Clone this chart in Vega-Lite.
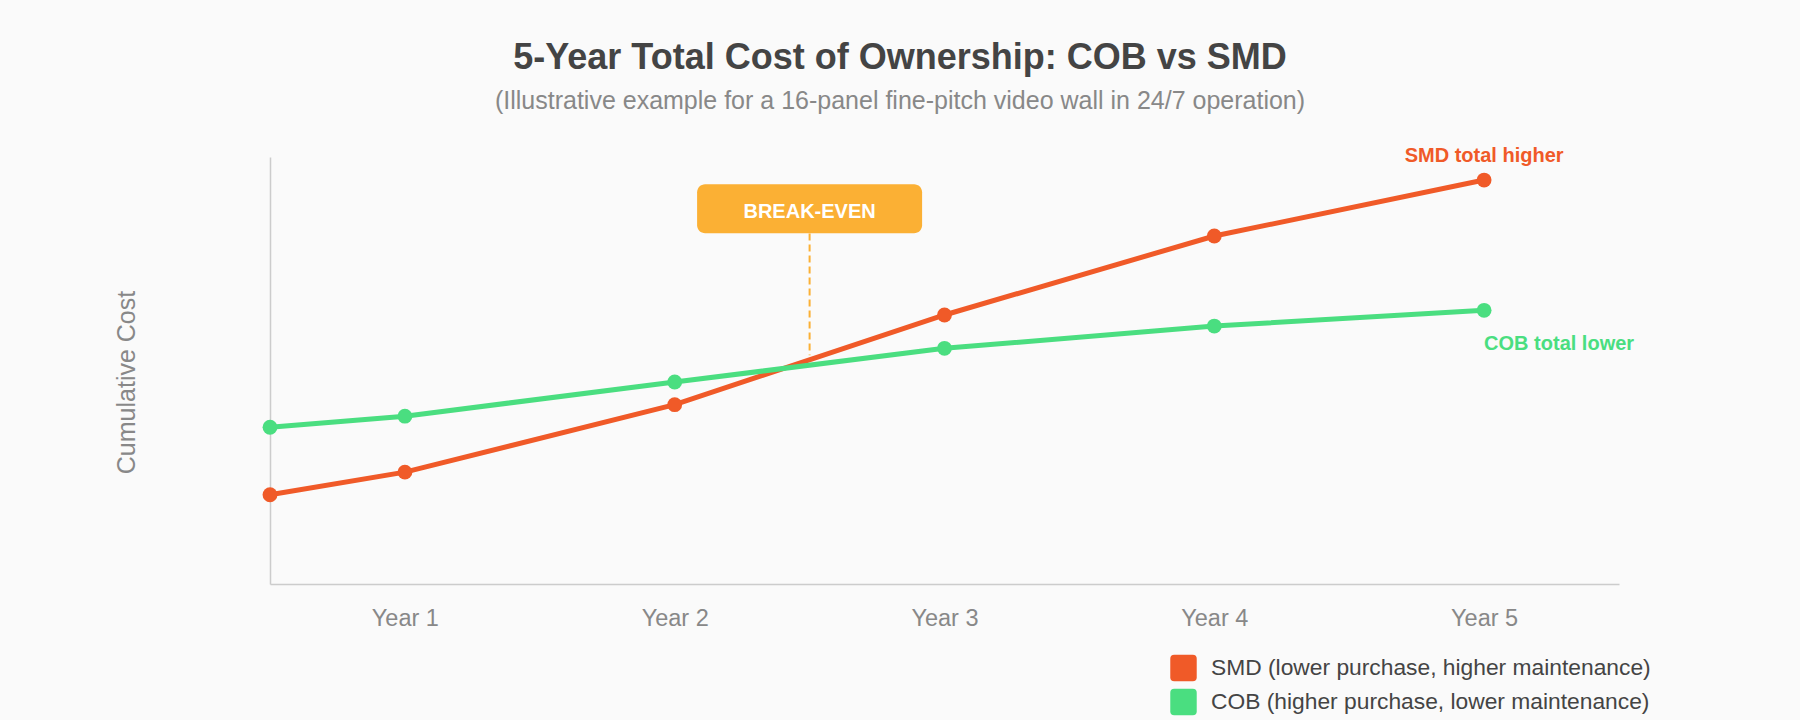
{
  "$schema": "https://vega.github.io/schema/vega-lite/v6.json",
  "width": 1349,
  "height": 427,
  "autosize": {"type": "none"},
  "padding": {"left": 270, "top": 157, "right": 181, "bottom": 136},
  "background": "#fafafa",
  "config": {
    "view": {"stroke": null},
    "font": "Liberation Sans",
    "axisX": {
      "ticks": false,
      "grid": false,
      "domainColor": "#cccccc",
      "domainWidth": 1.5,
      "labelFont": "Liberation Sans",
      "labelFontSize": 23.5,
      "labelColor": "#888888",
      "labelPadding": 22.7
    },
    "axisY": {
      "labels": false,
      "ticks": false,
      "grid": false,
      "domainColor": "#cccccc",
      "domainWidth": 1.5,
      "titleFont": "Liberation Sans",
      "titleFontSize": 25,
      "titleFontWeight": "normal",
      "titleColor": "#888888",
      "titleAngle": -90,
      "titleAlign": "center",
      "titleBaseline": "middle",
      "titleX": -144,
      "titleY": 225
    },
    "legend": {
      "orient": "none",
      "legendX": 900,
      "legendY": 497.5,
      "padding": 0,
      "symbolType": "M-0.7,-1L0.7,-1Q1,-1 1,-0.7L1,0.7Q1,1 0.7,1L-0.7,1Q-1,1 -1,0.7L-1,-0.7Q-1,-1 -0.7,-1Z",
      "symbolSize": 700,
      "symbolStrokeWidth": 0,
      "symbolOpacity": 1,
      "rowPadding": 7,
      "labelFont": "Liberation Sans",
      "labelFontSize": 22.8,
      "labelColor": "#444444",
      "labelOffset": 14,
      "labelLimit": 700
    }
  },
  "title": {
    "text": "5-Year Total Cost of Ownership: COB vs SMD",
    "subtitle": "(Illustrative example for a 16-panel fine-pitch video wall in 24/7 operation)",
    "anchor": "middle",
    "dx": -44.5,
    "font": "Liberation Sans",
    "fontSize": 36,
    "fontWeight": "bold",
    "color": "#444444",
    "subtitleFont": "Liberation Sans",
    "subtitleFontSize": 25,
    "subtitleColor": "#888888",
    "subtitlePadding": 12,
    "offset": 31
  },
  "datasets": {
    "cost": [
      {"year": 0, "tech": "SMD", "cost": 20.9},
      {"year": 1, "tech": "SMD", "cost": 26.2},
      {"year": 2, "tech": "SMD", "cost": 42.0},
      {"year": 3, "tech": "SMD", "cost": 63.0},
      {"year": 4, "tech": "SMD", "cost": 81.5},
      {"year": 5, "tech": "SMD", "cost": 94.6},
      {"year": 0, "tech": "COB", "cost": 36.7},
      {"year": 1, "tech": "COB", "cost": 39.3},
      {"year": 2, "tech": "COB", "cost": 47.3},
      {"year": 3, "tech": "COB", "cost": 55.2},
      {"year": 4, "tech": "COB", "cost": 60.4},
      {"year": 5, "tech": "COB", "cost": 64.1}
    ],
    "breakeven": [
      {"year": 2.5, "label": "BREAK-EVEN", "cost": 87.9, "from": 82.1, "to": 53.6}
    ]
  },
  "encoding": {
    "x": {
      "field": "year",
      "type": "quantitative",
      "scale": {"domain": [0.5, 5.5], "clamp": true, "nice": false, "zero": false},
      "axis": {
        "values": [1, 2, 3, 4, 5],
        "labelExpr": "'Year ' + datum.value",
        "title": null
      }
    },
    "y": {
      "field": "cost",
      "type": "quantitative",
      "scale": {"domain": [0, 100], "nice": false},
      "axis": {"title": "Cumulative Cost"}
    }
  },
  "layer": [
    {
      "data": {"name": "breakeven"},
      "mark": {"type": "rule", "color": "#fbb034", "strokeWidth": 2, "strokeDash": [7, 4]},
      "encoding": {
        "y": {"field": "from", "type": "quantitative", "axis": {"title": "Cumulative Cost"}},
        "y2": {"field": "to"}
      }
    },
    {
      "data": {"name": "breakeven"},
      "mark": {"type": "rect", "color": "#fbb034", "width": 225, "height": 49, "cornerRadius": 8}
    },
    {
      "data": {"name": "breakeven"},
      "mark": {"type": "text", "color": "#ffffff", "font": "Liberation Sans", "fontSize": 20, "fontWeight": "bold", "baseline": "middle", "align": "center", "dy": 3},
      "encoding": {
        "text": {"field": "label"}
      }
    },
    {
      "data": {"name": "cost"},
      "encoding": {
        "color": {
          "field": "tech",
          "type": "nominal",
          "scale": {"domain": ["SMD", "COB"], "range": ["#f05a28", "#4ade80"]},
          "legend": {
            "title": null,
            "labelExpr": "datum.value == 'SMD' ? 'SMD (lower purchase, higher maintenance)' : 'COB (higher purchase, lower maintenance)'"
          }
        }
      },
      "layer": [
        {"mark": {"type": "line", "strokeWidth": 5}},
        {"mark": {"type": "point", "filled": true, "size": 220, "opacity": 1}}
      ]
    },
    {
      "data": {"name": "cost"},
      "transform": [{"filter": "datum.year == 5 && datum.tech == 'SMD'"}],
      "mark": {"type": "text", "text": "SMD total higher", "color": "#f05a28", "font": "Liberation Sans", "fontSize": 20, "fontWeight": "bold", "align": "center", "baseline": "alphabetic", "dy": -18}
    },
    {
      "data": {"name": "cost"},
      "transform": [{"filter": "datum.year == 5 && datum.tech == 'COB'"}],
      "mark": {"type": "text", "text": "COB total lower", "color": "#4ade80", "font": "Liberation Sans", "fontSize": 20, "fontWeight": "bold", "align": "left", "baseline": "alphabetic", "dy": 40}
    }
  ]
}
